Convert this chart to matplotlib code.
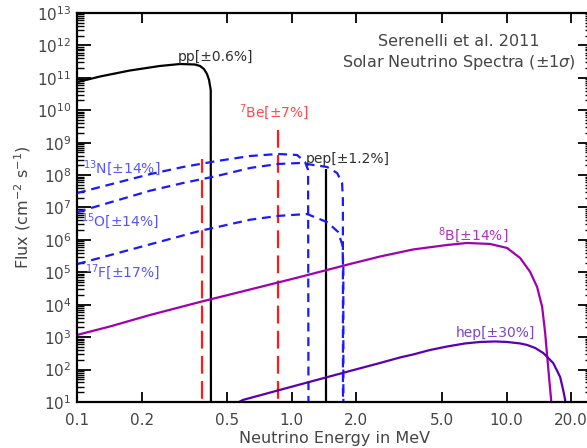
import matplotlib
matplotlib.use("Agg")
import matplotlib.pyplot as plt
from matplotlib.ticker import LogLocator, FixedLocator, FixedFormatter, NullLocator

# ---------------- data ----------------
pp_E = [0.100, 0.1125, 0.128, 0.176, 0.243, 0.302, 0.354, 0.374, 0.390, 0.403, 0.412, 0.4195, 0.4207]
pp_F = [7.45e10, 8.9e10, 1.10e11, 1.68e11, 2.32e11, 2.67e11, 2.58e11, 2.32e11, 1.87e11,
        1.31e11, 8.6e10, 4.2e10, 1e-3]

n13_E = [0.100, 0.219, 0.312, 0.449, 0.640, 0.863, 1.059, 1.153, 1.191, 1.199]
n13_F = [2.8e7, 1.07e8, 1.78e8, 2.72e8, 3.88e8, 4.48e8, 4.17e8, 2.54e8, 1.45e8, 1e-3]

o15_E = [0.100, 0.219, 0.312, 0.449, 0.640, 0.863, 1.093, 1.460, 1.626, 1.715, 1.730, 1.732]
o15_F = [7.2e6, 3.3e7, 5.7e7, 9.4e7, 1.66e8, 2.2e8, 2.36e8, 1.78e8, 1.16e8, 5.7e7, 1.7e7, 1e-3]

f17_E = [0.100, 0.374, 0.640, 0.863, 1.178, 1.460, 1.644, 1.720, 1.738, 1.740]
f17_F = [1.8e5, 1.9e6, 4.2e6, 5.5e6, 6.3e6, 3.55e6, 1.76e6, 7.0e5, 1.5e5, 1e-3]

be7_E = [0.384, 0.862]
be7_F = [3.2e8, 4.1e9]

pep_E = [1.442]
pep_F = [1.55e8]

b8_E = [0.100, 0.1425, 0.219, 0.374, 0.640, 1.093, 1.869, 2.578, 3.67, 5.29, 6.55, 8.39,
        10.06, 11.57, 12.88, 13.88, 14.65, 15.13, 15.62, 16.13, 16.5]
b8_F = [1.17e3, 2.14e3, 4.84e3, 1.22e4, 2.96e4, 7.2e4, 1.81e5, 3.08e5, 5.07e5, 6.98e5,
        8.05e5, 7.5e5, 5.64e5, 2.77e5, 1.03e5, 3.53e4, 8.55e3, 1.35e3, 1.2e2, 1.16e1, 1e-3]

hep_E = [0.562, 0.593, 1.093, 1.869, 2.578, 3.195, 3.67, 4.41, 5.29, 6.41, 7.54, 8.85,
         10.06, 11.57, 12.47, 13.59, 14.81, 16.49, 17.77, 18.35, 18.75, 18.77]
hep_F = [9.7, 11.6, 34.8, 90.8, 160, 237, 292, 403, 516, 640, 711, 737,
         711, 640, 575, 465, 326, 160, 59, 23.5, 11.6, 1e-3]

x_ticks = [0.1, 0.2, 0.5, 1.0, 2.0, 5.0, 10.0, 20.0]
x_ticklabels = ["0.1", "0.2", "0.5", "1.0", "2.0", "5.0", "10.0", "20.0"]

labels = {
    "pp": "pp[±0.6%]",
    "be7": "$^{7}$Be[±7%]",
    "pep": "pep[±1.2%]",
    "n13": "$^{13}$N[±14%]",
    "o15": "$^{15}$O[±14%]",
    "f17": "$^{17}$F[±17%]",
    "b8": "$^{8}$B[±14%]",
    "hep": "hep[±30%]",
}

# ---------------- figure ----------------
plt.rcParams['font.family'] = ['DejaVu Sans']
plt.rcParams['mathtext.fontset'] = 'dejavusans'
TXT = '#454545'

fig = plt.figure(figsize=(5.87, 4.48), dpi=100)
ax = fig.add_axes([77/587, 46/448, 515/587, 389/448])
ax.set_xscale('log')
ax.set_yscale('log')
ax.set_xlim(0.1, 25.0)
ax.set_ylim(1e1, 1e13)

lw = 1.6
ax.plot(pp_E, pp_F, color='black', lw=lw)
ax.vlines(pep_E, 1e-3, pep_F, color='black', lw=lw)
ax.vlines(be7_E, 1e-3, be7_F, color='#ff1a1a', lw=lw, linestyles=[(0, (8, 3.3))])
blue = '#1a1aff'
cno_ls = (0, (4, 2.6))
ax.plot(n13_E, n13_F, color=blue, lw=lw, ls=cno_ls)
ax.plot(o15_E, o15_F, color=blue, lw=lw, ls=cno_ls)
ax.plot(f17_E, f17_F, color=blue, lw=lw, ls=cno_ls)
ax.plot(b8_E, b8_F, color='#a000b0', lw=lw)
ax.plot(hep_E, hep_F, color='#5a00b4', lw=lw)

# ticks
ax.xaxis.set_major_locator(FixedLocator(x_ticks))
ax.xaxis.set_major_formatter(FixedFormatter(x_ticklabels))
ax.xaxis.set_minor_locator(NullLocator())
ax.yaxis.set_major_locator(LogLocator(base=10, numticks=20))
ax.yaxis.set_minor_locator(LogLocator(base=10, subs=range(2, 10), numticks=20))
ax.tick_params(axis='x', which='major', direction='in', length=7, width=1.3,
               top=True, bottom=True, labelsize=11, labelcolor=TXT, pad=8)
ax.tick_params(axis='y', which='major', direction='in', length=10, width=1.3,
               left=True, right=True, labelsize=11, labelcolor=TXT, pad=4)
ax.tick_params(axis='y', which='minor', direction='in', length=5, width=1.0,
               left=True, right=True)
for s in ax.spines.values():
    s.set_linewidth(1.6)

ax.set_xlabel("Neutrino Energy in MeV", fontsize=11.5, color=TXT, labelpad=2)
ax.set_ylabel("Flux (cm$^{-2}$ s$^{-1}$)", fontsize=11.5, color=TXT, labelpad=3)

# labels
tk = dict(transform=ax.transAxes, fontsize=10, va='center')
ax.text(0.268, 0.887, labels["pp"], color='#303030', ha='center', **tk)
ax.text(0.3835, 0.7455, labels["be7"], color='#ff4a4a', ha='center', **tk)
ax.text(0.526, 0.6247, labels["pep"], color='#303030', ha='center', **tk)
ax.text(0.086, 0.6015, labels["n13"], color='#5555ff', ha='center', **tk)
ax.text(0.084, 0.4653, labels["o15"], color='#5555ff', ha='center', **tk)
ax.text(0.088, 0.3342, labels["f17"], color='#5555ff', ha='center', **tk)
ax.text(0.769, 0.4293, labels["b8"], color='#b030c0', ha='center', **tk)
ax.text(0.8126, 0.1774, labels["hep"], color='#7a45c8', ha='center', **tk)

ax.text(0.7417, 0.928, "Serenelli et al. 2011", transform=ax.transAxes,
        fontsize=11.5, color=TXT, ha='center', va='center')
ax.text(0.7417, 0.8715, "Solar Neutrino Spectra ($\\pm1\\sigma$)", transform=ax.transAxes,
        fontsize=11.5, color=TXT, ha='center', va='center')

fig.savefig("out.png", dpi=100)
